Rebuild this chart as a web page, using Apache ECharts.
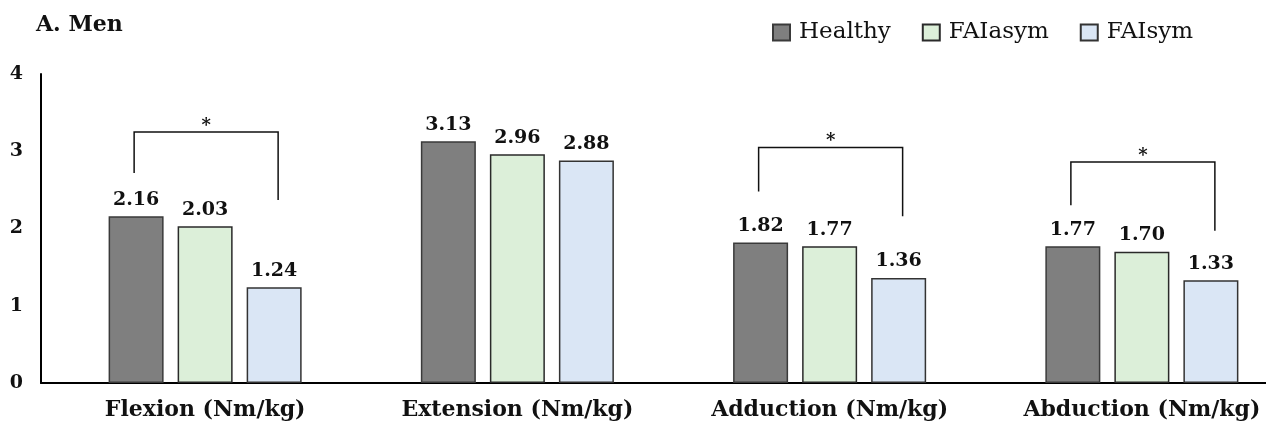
<!DOCTYPE html>
<html lang="en">

<head>
  <meta charset="utf-8">
  <title>A. Men - peak torque</title>
  <style>
    * {
      margin: 0;
      padding: 0;
    }

    #chart-container {
      position: relative;
      width: 1266px;
      height: 436px;
      overflow: hidden;
      background: #fff;
    }
  </style>
</head>

<body>
  <div id="chart-container"></div>
  <script src="https://cdn.jsdelivr.net/npm/echarts@6/dist/echarts.min.js"></script>
  <script>
    var dom = document.getElementById('chart-container');
    var myChart = echarts.init(dom, null, {
      renderer: 'canvas',
      useDirtyRect: false
    });

    // data
    var categories = ['Flexion (Nm/kg)', 'Extension (Nm/kg)', 'Adduction (Nm/kg)', 'Abduction (Nm/kg)'];
    var seriesNames = ['Healthy', 'FAIasym', 'FAIsym'];
    var healthy = [2.16, 3.13, 1.82, 1.77];
    var faiAsym = [2.03, 2.96, 1.77, 1.70];
    var faiSym = [1.24, 2.88, 1.36, 1.33];
    var yTicks = [0, 1, 2, 3, 4];

    // significance brackets: category index, bar level, left leg end, right leg end
    var sigCategory = [0, 2, 3];
    var sigTop = [3.25, 3.05, 2.86];
    var sigLeftEnd = [2.72, 2.48, 2.30];
    var sigRightEnd = [2.37, 2.16, 1.97];

    var FONT = '"DejaVu Serif", "Liberation Serif", serif';
    var BAR_W = 55;
    var BAR_GAP = 14;
    var colors = ['#7f7f7f', '#dcefd9', '#dae6f5'];
    var borders = ['#3a3a3a', '#2a2a2a', '#333333'];

    var sigData = sigCategory.map(function (c, i) {
      return [c, sigTop[i], sigLeftEnd[i], sigRightEnd[i]];
    });

    function barSeries(name, values, idx) {
      return {
        name: name,
        type: 'bar',
        xAxisIndex: 0,
        yAxisIndex: 0,
        barWidth: BAR_W,
        barGap: (BAR_GAP / BAR_W * 100).toFixed(1) + '%',
        data: values,
        itemStyle: {
          color: colors[idx],
          borderColor: borders[idx],
          borderWidth: 1.5
        },
        label: {
          show: true,
          position: 'top',
          distance: 7,
          fontFamily: FONT,
          fontWeight: 'bold',
          fontSize: 19,
          color: '#111',
          formatter: function (p) {
            return p.value.toFixed(2);
          }
        }
      };
    }

    var option = {
      backgroundColor: '#fff',
      animation: false,
      title: {
        text: 'A. Men',
        left: 31,
        top: 9,
        textStyle: {
          fontFamily: FONT,
          fontWeight: 'bold',
          fontSize: 22,
          color: '#111'
        }
      },
      legend: {
        data: seriesNames,
        left: 767,
        top: 16,
        icon: 'rect',
        itemWidth: 17,
        itemHeight: 16,
        itemGap: 31,
        textStyle: {
          fontFamily: FONT,
          fontSize: 23,
          color: '#111',
          padding: [0, 0, 0, 4]
        }
      },
      grid: [
        { left: 49, width: 1249, top: 74, bottom: 53, outerBoundsMode: 'none' },
        { left: 41, right: 0, top: 74, bottom: 53, outerBoundsMode: 'none' }
      ],
      xAxis: [
        {
          type: 'category',
          gridIndex: 0,
          data: categories,
          axisLine: { show: false },
          axisTick: { show: false },
          axisLabel: {
            interval: 0,
            margin: 16,
            fontFamily: FONT,
            fontWeight: 'bold',
            fontSize: 22,
            color: '#111'
          }
        },
        {
          type: 'value',
          gridIndex: 1,
          min: 0,
          max: 1,
          axisLine: { show: true, lineStyle: { color: '#000', width: 2 } },
          axisTick: { show: false },
          axisLabel: { show: false },
          splitLine: { show: false }
        }
      ],
      yAxis: [
        {
          type: 'value',
          gridIndex: 0,
          min: yTicks[0],
          max: yTicks[yTicks.length - 1],
          interval: 1,
          show: false
        },
        {
          type: 'value',
          gridIndex: 1,
          min: yTicks[0],
          max: yTicks[yTicks.length - 1],
          interval: 1,
          axisLine: { show: true, lineStyle: { color: '#000', width: 2 } },
          axisTick: { show: false },
          splitLine: { show: false },
          axisLabel: {
            margin: 18,
            fontFamily: FONT,
            fontWeight: 'bold',
            fontSize: 19,
            color: '#111'
          }
        }
      ],
      series: [
        barSeries(seriesNames[0], healthy, 0),
        barSeries(seriesNames[1], faiAsym, 1),
        barSeries(seriesNames[2], faiSym, 2),
        {
          type: 'custom',
          xAxisIndex: 0,
          yAxisIndex: 0,
          data: sigData,
          z: 5,
          renderItem: function (params, api) {
            var top = api.coord([api.value(0), api.value(1)]);
            var yL = api.coord([api.value(0), api.value(2)])[1];
            var yR = api.coord([api.value(0), api.value(3)])[1];
            var xL = top[0] - (BAR_W + BAR_GAP) - 2;
            var xR = top[0] + (BAR_W + BAR_GAP) + 4;
            return {
              type: 'group',
              children: [
                {
                  type: 'polyline',
                  shape: { points: [[xL, yL], [xL, top[1]], [xR, top[1]], [xR, yR]] },
                  style: { stroke: '#111', lineWidth: 1.5, fill: null }
                },
                {
                  type: 'text',
                  x: (xL + xR) / 2,
                  y: top[1] + 3,
                  style: {
                    text: '*',
                    fontFamily: FONT,
                    fontSize: 18,
                    fontWeight: 'bold',
                    fill: '#111',
                    align: 'center',
                    verticalAlign: 'bottom'
                  }
                }
              ]
            };
          }
        }
      ]
    };

    if (option && typeof option === 'object') {
      myChart.setOption(option);
    }

    window.addEventListener('resize', myChart.resize);
  </script>
</body>

</html>
